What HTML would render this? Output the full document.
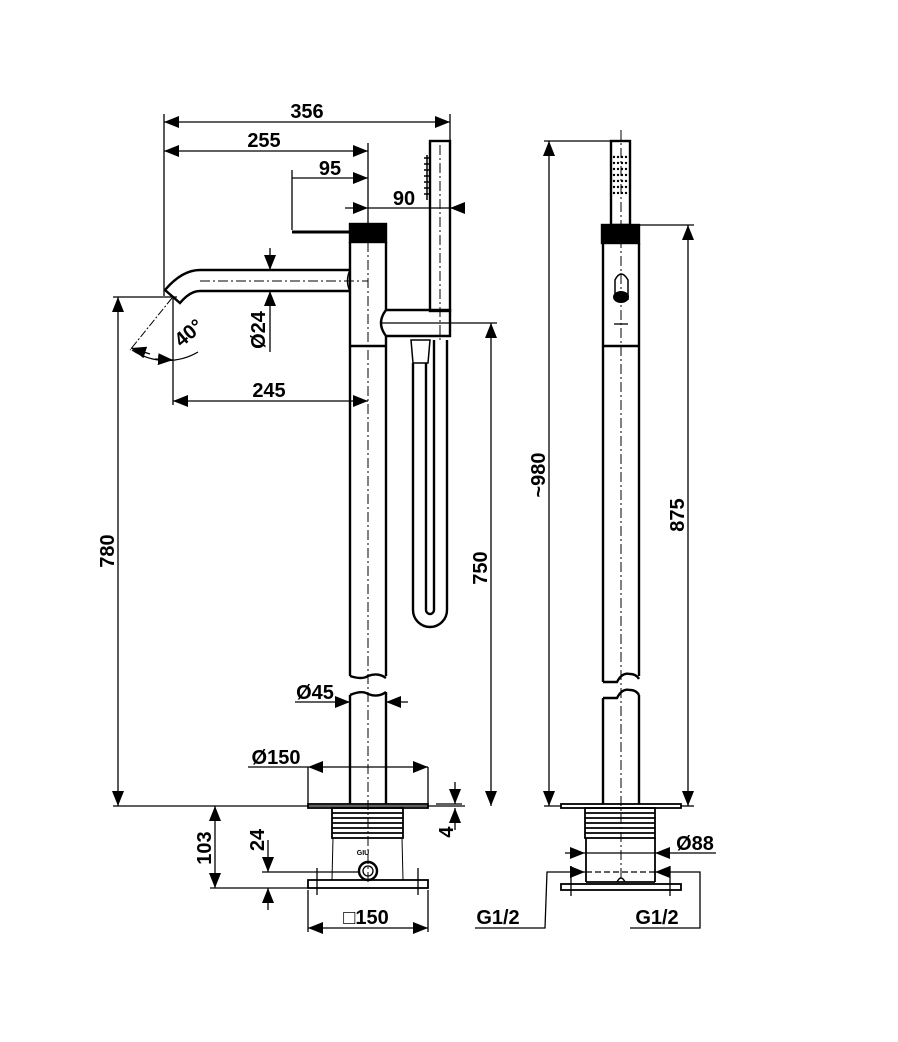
<!DOCTYPE html>
<html><head><meta charset="utf-8"><style>
html,body{margin:0;padding:0;background:#fff}
svg{display:block}
text{font-family:"Liberation Sans",sans-serif;font-weight:bold;font-size:20px;fill:#000}
</style></head><body>
<svg width="898" height="1042" viewBox="0 0 898 1042" xmlns="http://www.w3.org/2000/svg">
<defs>
<marker id="a" markerUnits="userSpaceOnUse" markerWidth="16" markerHeight="12" refX="15" refY="6" orient="auto-start-reverse" viewBox="0 0 16 12"><path d="M0,0 L15,6 L0,12 Z" fill="#000"/></marker>
</defs>
<g stroke="#000" fill="none" stroke-width="1.3">
<!-- front view extension lines -->
<line x1="164" y1="114" x2="164" y2="296"/>
<line x1="450" y1="114" x2="450" y2="142"/>
<line x1="368" y1="143" x2="368" y2="224"/>
<line x1="292" y1="170" x2="292" y2="230"/>
<line x1="173" y1="297" x2="173" y2="405"/>
<line x1="113" y1="297" x2="177" y2="297"/>
<line x1="380" y1="323" x2="497" y2="323"/>
<line x1="113" y1="806" x2="465" y2="806"/>
<!-- dims front -->
<line x1="164" y1="122" x2="450" y2="122" marker-start="url(#a)" marker-end="url(#a)"/>
<line x1="164" y1="151" x2="368" y2="151" marker-start="url(#a)" marker-end="url(#a)"/>
<line x1="292" y1="178" x2="368" y2="178" marker-end="url(#a)"/>
<line x1="345" y1="208" x2="368" y2="208" marker-end="url(#a)"/>
<line x1="368" y1="208" x2="450" y2="208"/>
<line x1="462" y1="208" x2="450" y2="208" marker-end="url(#a)"/>
<line x1="270" y1="248" x2="270" y2="270" marker-end="url(#a)"/>
<line x1="270" y1="352" x2="270" y2="291" marker-end="url(#a)"/>
<line x1="173" y1="401" x2="368" y2="401" marker-start="url(#a)" marker-end="url(#a)"/>
<line x1="118" y1="297" x2="118" y2="806" marker-start="url(#a)" marker-end="url(#a)"/>
<line x1="491" y1="323" x2="491" y2="806" marker-start="url(#a)" marker-end="url(#a)"/>
<line x1="295" y1="702" x2="350" y2="702" marker-end="url(#a)"/>
<line x1="408" y1="702" x2="386" y2="702" marker-end="url(#a)"/>
<line x1="248" y1="767" x2="308" y2="767"/>
<line x1="308" y1="767" x2="428" y2="767" marker-start="url(#a)" marker-end="url(#a)"/>
<line x1="308" y1="767" x2="308" y2="804"/>
<line x1="428" y1="767" x2="428" y2="804"/>
<line x1="436" y1="804" x2="462" y2="804"/>
<line x1="455" y1="782" x2="455" y2="804" marker-end="url(#a)"/>
<line x1="455" y1="830" x2="455" y2="808" marker-end="url(#a)"/>
<line x1="215" y1="806" x2="215" y2="888" marker-start="url(#a)" marker-end="url(#a)"/>
<line x1="210" y1="888" x2="308" y2="888"/>
<line x1="262" y1="872" x2="358" y2="872"/>
<line x1="268" y1="840" x2="268" y2="872" marker-end="url(#a)"/>
<line x1="268" y1="910" x2="268" y2="888" marker-end="url(#a)"/>
<line x1="308" y1="890" x2="308" y2="932"/>
<line x1="428" y1="890" x2="428" y2="932"/>
<line x1="308" y1="928" x2="428" y2="928" marker-start="url(#a)" marker-end="url(#a)"/>
<line x1="317" y1="868" x2="317" y2="895"/>
<line x1="418" y1="868" x2="418" y2="895"/>
<!-- angle -->
<line x1="172" y1="298" x2="130" y2="350" stroke-dasharray="8,2,2,2" stroke-width="1"/>
<path d="M132,350 A62,62 0 0 0 198,352"/>
<line x1="150" y1="354" x2="131" y2="348" marker-end="url(#a)"/>
<line x1="155" y1="359" x2="173" y2="360" marker-end="url(#a)"/>
<!-- centerlines -->
<g stroke-dasharray="10,3,2,3" stroke-width="1">
<line x1="368" y1="224" x2="368" y2="885"/>
<line x1="440" y1="145" x2="440" y2="340"/>
<line x1="200" y1="281" x2="368" y2="281"/>
<line x1="382" y1="323" x2="450" y2="323"/>
<line x1="621" y1="130" x2="621" y2="880"/>
</g>
</g>
<!-- front parts -->
<g stroke="#000" fill="none" stroke-width="2.4">
<rect x="350" y="224" width="36" height="18" fill="#000"/>
<line x1="292" y1="232" x2="350" y2="232" stroke-width="3"/>
<line x1="350" y1="242" x2="350" y2="676"/>
<line x1="386" y1="242" x2="386" y2="310"/>
<line x1="386" y1="336" x2="386" y2="676"/>
<line x1="350" y1="346" x2="386" y2="346"/>
<path d="M350,270 L200,270 Q182,270 165,290 L180,303 Q190,291 200,291 L350,291"/>
<path d="M350,270 Q345,281 350,291" stroke-width="1.5"/>
<path d="M350,676 Q362,680 368,676 Q378,672 386,678"/>
<path d="M350,695 Q362,690 368,694 Q378,698 386,692"/>
<line x1="350" y1="695" x2="350" y2="804"/>
<line x1="386" y1="692" x2="386" y2="804"/>
<rect x="430" y="141" width="20" height="170"/>
<path d="M386,310 L450,310 L450,336 L386,336 Q376,323 386,310"/>
<path d="M413,363 L413,610 A17,17 0 0 0 447,610 L447,340"/>
<path d="M426,363 L426,610 A4,4 0 0 0 434,610 L434,340"/>
<path d="M411,340 L430,340 L428,363 L413,363 Z" stroke-width="1.5"/>
<rect x="308" y="804" width="120" height="4" stroke-width="1.8"/>
<rect x="332" y="808" width="71" height="30" stroke-width="1.8"/>
<line x1="332" y1="813" x2="403" y2="813" stroke-width="1.8"/>
<line x1="332" y1="818" x2="403" y2="818" stroke-width="1.8"/>
<line x1="332" y1="823" x2="403" y2="823" stroke-width="1.8"/>
<line x1="332" y1="828" x2="403" y2="828" stroke-width="1.8"/>
<line x1="332" y1="833" x2="403" y2="833" stroke-width="1.8"/>
<line x1="333" y1="838" x2="332" y2="880" stroke-width="1"/>
<line x1="402" y1="838" x2="403" y2="880" stroke-width="1"/>
<rect x="308" y="880" width="120" height="8" stroke-width="1.8"/>
<circle cx="368" cy="871" r="9"/>
<circle cx="368" cy="871" r="5" stroke-width="1.3"/>
</g>
<text x="363" y="855" style="font-size:7px" text-anchor="middle">GIU</text>
<g stroke="#000" stroke-width="1.5">
<line x1="427" y1="155" x2="427" y2="200"/>
<line x1="424" y1="158" x2="430" y2="158"/><line x1="424" y1="164" x2="430" y2="164"/><line x1="424" y1="170" x2="430" y2="170"/><line x1="424" y1="176" x2="430" y2="176"/><line x1="424" y1="182" x2="430" y2="182"/><line x1="424" y1="188" x2="430" y2="188"/><line x1="424" y1="194" x2="430" y2="194"/>
</g>
<!-- side view -->
<g stroke="#000" fill="none" stroke-width="1.3">
<line x1="544" y1="141" x2="611" y2="141"/>
<line x1="639" y1="225" x2="694" y2="225"/>
<line x1="544" y1="806" x2="561" y2="806"/>
<line x1="681" y1="806" x2="694" y2="806"/>
<line x1="549" y1="141" x2="549" y2="806" marker-start="url(#a)" marker-end="url(#a)"/>
<line x1="688" y1="225" x2="688" y2="806" marker-start="url(#a)" marker-end="url(#a)"/>
<line x1="565" y1="853" x2="585" y2="853" marker-end="url(#a)"/>
<line x1="585" y1="853" x2="655" y2="853"/>
<line x1="716" y1="853" x2="655" y2="853" marker-end="url(#a)"/>
<line x1="586" y1="872" x2="655" y2="872" stroke-dasharray="6,3"/>
<polyline points="475,928 545,928 547,872 568,872"/>
<line x1="568" y1="872" x2="585" y2="872" marker-end="url(#a)"/>
<polyline points="630,928 700,928 700,872 672,872"/>
<line x1="672" y1="872" x2="655" y2="872" marker-end="url(#a)"/>
<line x1="571" y1="866" x2="571" y2="896"/>
<line x1="670" y1="866" x2="670" y2="896"/>
<line x1="614" y1="324" x2="628" y2="324"/>
</g>
<g stroke="#000" fill="none" stroke-width="2.4">
<rect x="611" y="141" width="19" height="84"/>
<rect x="602" y="225" width="37" height="18" fill="#000"/>
<line x1="603" y1="243" x2="603" y2="682"/>
<line x1="639" y1="243" x2="639" y2="676"/>
<line x1="603" y1="346" x2="639" y2="346"/>
<path d="M603,682 L617,682 Q622,672 630,674 Q636,674 639,679"/>
<path d="M603,698 L617,698 Q622,688 630,690 Q636,690 639,695"/>
<line x1="603" y1="698" x2="603" y2="804"/>
<line x1="639" y1="695" x2="639" y2="804"/>
<path d="M615,300 L615,280 Q621,268 628,280 L628,300" stroke-width="1.5"/>
<ellipse cx="621" cy="297" rx="8" ry="6" fill="#000" stroke="none"/>
<rect x="561" y="804" width="120" height="4" stroke-width="1.8"/>
<rect x="585" y="808" width="70" height="30" stroke-width="1.8"/>
<line x1="585" y1="813" x2="655" y2="813" stroke-width="1.8"/>
<line x1="585" y1="818" x2="655" y2="818" stroke-width="1.8"/>
<line x1="585" y1="823" x2="655" y2="823" stroke-width="1.8"/>
<line x1="585" y1="828" x2="655" y2="828" stroke-width="1.8"/>
<line x1="585" y1="833" x2="655" y2="833" stroke-width="1.8"/>
<line x1="586" y1="838" x2="586" y2="882" stroke-width="1.8"/>
<line x1="655" y1="838" x2="655" y2="882" stroke-width="1.8"/>
<line x1="586" y1="882" x2="655" y2="882" stroke-width="1.8"/>
<rect x="561" y="884" width="120" height="6" stroke-width="1.8"/>
<path d="M617,882 Q621,874 625,882" stroke-width="1.5"/>
</g>
<g fill="#000">
<circle cx="614" cy="157" r="1.2"/><circle cx="618" cy="157" r="1.2"/><circle cx="622" cy="157" r="1.2"/><circle cx="626" cy="157" r="1.2"/>
<circle cx="614" cy="163" r="1.2"/><circle cx="618" cy="163" r="1.2"/><circle cx="622" cy="163" r="1.2"/><circle cx="626" cy="163" r="1.2"/>
<circle cx="614" cy="169" r="1.2"/><circle cx="618" cy="169" r="1.2"/><circle cx="622" cy="169" r="1.2"/><circle cx="626" cy="169" r="1.2"/>
<circle cx="614" cy="175" r="1.2"/><circle cx="618" cy="175" r="1.2"/><circle cx="622" cy="175" r="1.2"/><circle cx="626" cy="175" r="1.2"/>
<circle cx="614" cy="181" r="1.2"/><circle cx="618" cy="181" r="1.2"/><circle cx="622" cy="181" r="1.2"/><circle cx="626" cy="181" r="1.2"/>
<circle cx="614" cy="187" r="1.2"/><circle cx="618" cy="187" r="1.2"/><circle cx="622" cy="187" r="1.2"/><circle cx="626" cy="187" r="1.2"/>
<circle cx="614" cy="193" r="1.2"/><circle cx="618" cy="193" r="1.2"/><circle cx="622" cy="193" r="1.2"/><circle cx="626" cy="193" r="1.2"/>
</g>
<!-- labels -->
<text x="307" y="118" text-anchor="middle">356</text>
<text x="264" y="147" text-anchor="middle">255</text>
<text x="330" y="175" text-anchor="middle">95</text>
<text x="404" y="205" text-anchor="middle">90</text>
<text x="269" y="397" text-anchor="middle">245</text>
<text transform="translate(265,330) rotate(-90)" text-anchor="middle">Ø24</text>
<text transform="translate(193,338) rotate(-40)" text-anchor="middle">40°</text>
<text transform="translate(114,551) rotate(-90)" text-anchor="middle">780</text>
<text transform="translate(487,568) rotate(-90)" text-anchor="middle">750</text>
<text x="315" y="699" text-anchor="middle">Ø45</text>
<text x="276" y="764" text-anchor="middle">Ø150</text>
<text transform="translate(453,832) rotate(-90)" text-anchor="middle">4</text>
<text transform="translate(211,848) rotate(-90)" text-anchor="middle">103</text>
<text transform="translate(264,840) rotate(-90)" text-anchor="middle">24</text>
<text x="366" y="924" text-anchor="middle">□150</text>
<text transform="translate(545,475) rotate(-90)" text-anchor="middle">~980</text>
<text transform="translate(684,515) rotate(-90)" text-anchor="middle">875</text>
<text x="695" y="850" text-anchor="middle">Ø88</text>
<text x="498" y="924" text-anchor="middle">G1/2</text>
<text x="657" y="924" text-anchor="middle">G1/2</text>
</svg>
</body></html>
